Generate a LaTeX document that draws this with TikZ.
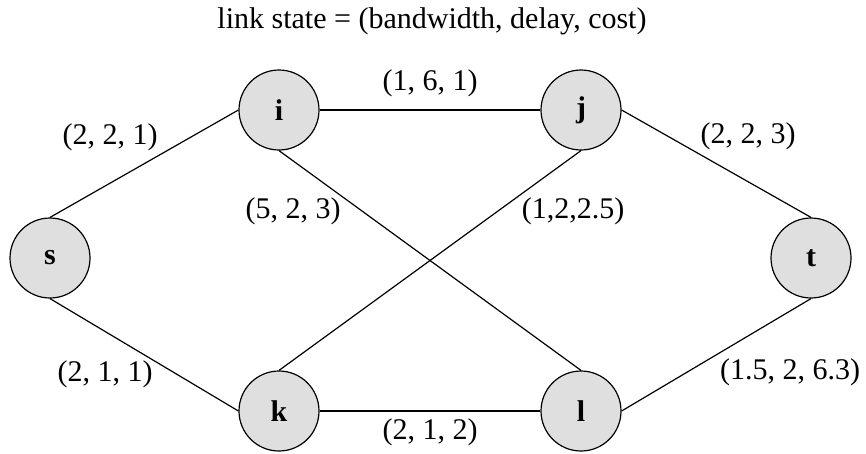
\documentclass[tikz,border=0pt]{standalone}
\usepackage{fontspec}
\setmainfont{Liberation Serif}
\begin{document}
\begin{tikzpicture}[
  x=1pt, y=-1pt,
  every node/.style={font=\fontsize{30}{36}\selectfont},
  router/.style={circle, draw, line width=1.2pt, fill=gray!25, minimum size=80pt, inner sep=0pt, font=\fontsize{30}{36}\selectfont\bfseries},
  link/.style={draw, line width=1.2pt},
  weight/.style={inner sep=0pt}
]
\useasboundingbox (0,0) rectangle (866,453);
\node (title) at (432,21) {link state = (bandwidth, delay, cost)};
\node[router] (s) at (50,258) {s};
\node[router] (i) at (279,110) {i};
\node[router] (j) at (581,110) {j};
\node[router] (t) at (811,258) {t};
\node[router] (k) at (279,411) {k};
\node[router] (l) at (581,411) {l};
\draw[link] (s.north) -- (i.west);
\draw[link] (s.south) -- (k.west);
\draw[link] (i.east) -- (j.west);
\draw[link] (i.south) -- (l.north);
\draw[link] (k.north) -- (j.south);
\draw[link] (k.east) -- (l.west);
\draw[link] (j.east) -- (t.north);
\draw[link] (l.east) -- (t.south);
\node[weight] (w-si) at (110,137) {(2, 2, 1)};
\node[weight] (w-ij) at (430,83) {(1, 6, 1)};
\node[weight] (w-jt) at (748,136) {(2, 2, 3)};
\node[weight] (w-il) at (293,211) {(5, 2, 3)};
\node[weight] (w-kj) at (573,211) {(1,2,2.5)};
\node[weight] (w-sk) at (105,374) {(2, 1, 1)};
\node[weight] (w-lt) at (790,372) {(1.5, 2, 6.3)};
\node[weight] (w-kl) at (430,432) {(2, 1, 2)};
\end{tikzpicture}
\end{document}
